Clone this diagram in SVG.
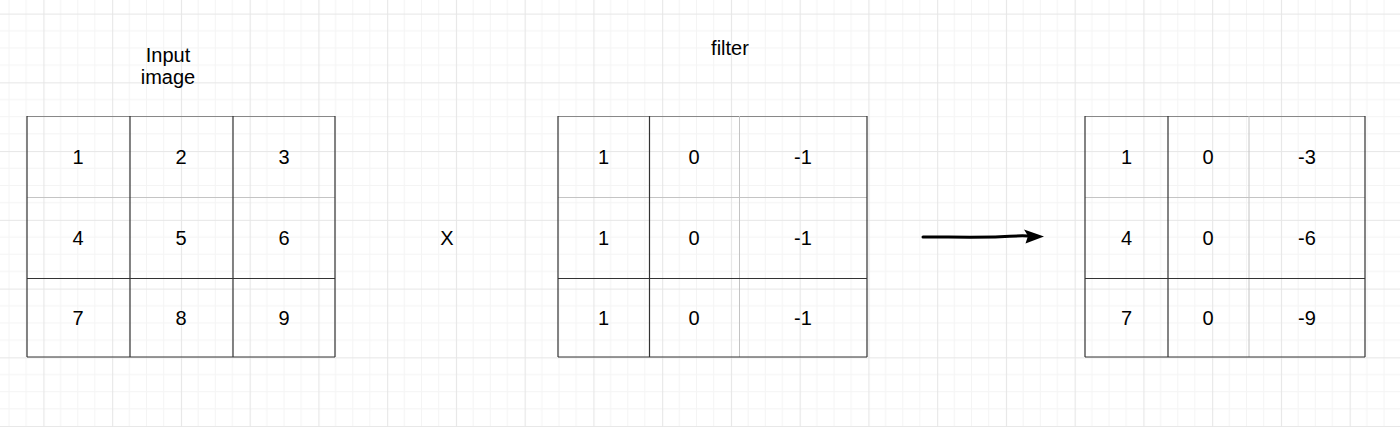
<svg xmlns="http://www.w3.org/2000/svg" width="1400" height="427" viewBox="0 0 1400 427">
<defs>
<pattern id="grid" patternUnits="userSpaceOnUse" x="43.4" y="13.6" width="68.75" height="68.75">
<path d="M17.19 0V68.75M34.38 0V68.75M51.56 0V68.75M0 17.19H68.75M0 34.38H68.75M0 51.56H68.75" stroke="#f4f4f4" stroke-width="1" fill="none"/>
<path d="M0.5 0V68.75M0 0.5H68.75" stroke="#e6e6e6" stroke-width="1.2" fill="none"/>
</pattern>
</defs>
<style>
text{font-family:"Liberation Sans",Arial,sans-serif;font-size:20px;fill:#000;text-anchor:middle}
.dk{stroke:#333;stroke-width:1.2;fill:none}
.lt{stroke:#c4c4c4;stroke-width:1;fill:none}
.tp{stroke:#888;stroke-width:1;fill:none}
</style>
<rect width="1400" height="427" fill="#fff"/>
<rect width="1400" height="427" fill="url(#grid)"/>

<g id="label-input"><text x="168" y="62">Input</text><text x="168" y="84">image</text></g>
<g id="label-filter"><text x="730" y="55">filter</text></g>
<g id="op-x"><text x="447" y="245">X</text></g>

<g id="input-matrix">
<path class="tp" d="M27 116.5H335"/>
<path class="lt" d="M27 197.5H335"/>
<path class="dk" d="M27 278.5H335M27 357H335M27 116V357M335 116V357M130 116V357M233 116V357"/>
<text x="78" y="164">1</text><text x="181" y="164">2</text><text x="284" y="164">3</text>
<text x="78" y="245">4</text><text x="181" y="245">5</text><text x="284" y="245">6</text>
<text x="78" y="325">7</text><text x="181" y="325">8</text><text x="284" y="325">9</text>
</g>

<g id="filter-matrix">
<path class="tp" d="M558 116.5H867"/>
<path class="lt" d="M558 197.5H867M739.5 116V357"/>
<path class="dk" d="M558 278.5H867M558 357H867M558 116V357M867 116V357M649.5 116V357"/>
<text x="603.5" y="164">1</text><text x="694" y="164">0</text><text x="803" y="164">-1</text>
<text x="603.5" y="245">1</text><text x="694" y="245">0</text><text x="803" y="245">-1</text>
<text x="603.5" y="325">1</text><text x="694" y="325">0</text><text x="803" y="325">-1</text>
</g>

<g id="output-matrix">
<path class="tp" d="M1085 116.5H1365"/>
<path class="lt" d="M1085 197.5H1365M1249 116V357"/>
<path class="dk" d="M1085 278.5H1365M1085 357H1365M1085 116V357M1365 116V357M1168 116V357"/>
<text x="1126.5" y="164">1</text><text x="1208" y="164">0</text><text x="1307" y="164">-3</text>
<text x="1126.5" y="245">4</text><text x="1208" y="245">0</text><text x="1307" y="245">-6</text>
<text x="1126.5" y="325">7</text><text x="1208" y="325">0</text><text x="1307" y="325">-9</text>
</g>

<g id="connectors">
<path d="M923 237C950 237 985 237.5 1000 236.8C1012 236 1020 235.5 1028 236" stroke="#000" stroke-width="3" fill="none" stroke-linecap="round"/>
<path d="M1024 229.5L1044 236.5L1025.5 243.5L1028 236Z" fill="#000"/>
</g>
</svg>
